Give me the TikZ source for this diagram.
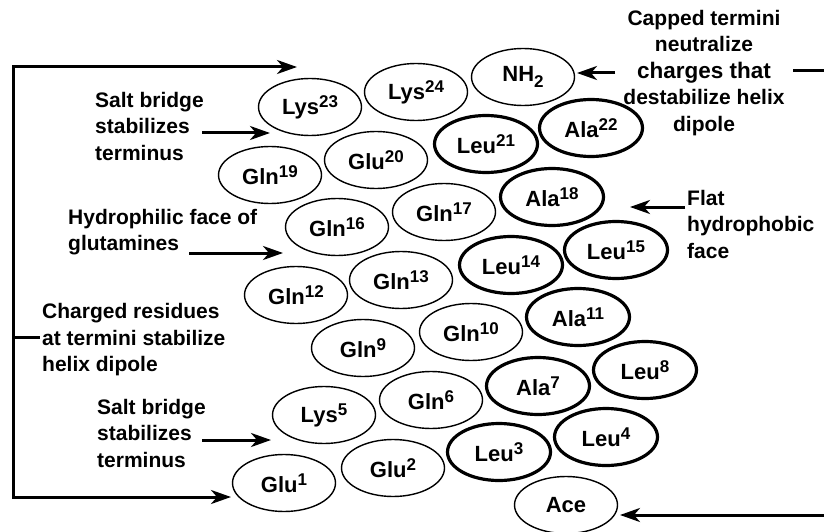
\documentclass[tikz,border=0pt]{standalone}
\usepackage{fontspec}
\setmainfont{Liberation Sans}
\usetikzlibrary{arrows.meta,shapes.geometric}
\newcommand\rsup[2]{#1\raisebox{7pt}{\fontsize{17}{17}\selectfont #2}}
\newcommand\rsub[2]{#1\raisebox{-6pt}{\fontsize{17}{17}\selectfont #2}}
\begin{document}
\begin{tikzpicture}[x=1pt,y=-1pt,
  res/.style={ellipse, draw, line width=1.4pt, minimum width=103pt, minimum height=57pt, inner sep=0pt, font=\fontsize{22}{22}\selectfont\bfseries},
  hres/.style={res, line width=3.2pt},
  lab/.style={font=\fontsize{21}{26.5}\selectfont\bfseries, inner sep=0pt, align=left, anchor=west},
  conn/.style={line width=3pt},
  arr/.style={conn, -{Stealth[length=20pt,width=14pt,inset=6pt]}}]
\useasboundingbox (0,0) rectangle (824,532);
% residues
\node[res]  (nh2)   at (523,77)  {\rsub{NH}{2}};
\node[res]  (lys24) at (416,92)  {\rsup{Lys}{24}};
\node[res]  (lys23) at (310,107) {\rsup{Lys}{23}};
\node[hres] (ala22) at (591,128) {\rsup{Ala}{22}};
\node[hres] (leu21) at (486,144) {\rsup{Leu}{21}};
\node[res]  (glu20) at (376,160) {\rsup{Glu}{20}};
\node[res]  (gln19) at (270,175) {\rsup{Gln}{19}};
\node[hres] (ala18) at (552,197) {\rsup{Ala}{18}};
\node[res]  (gln17) at (444,212) {\rsup{Gln}{17}};
\node[res]  (gln16) at (337,227) {\rsup{Gln}{16}};
\node[hres] (leu15) at (616,250) {\rsup{Leu}{15}};
\node[hres] (leu14) at (511,265) {\rsup{Leu}{14}};
\node[res]  (gln13) at (401,280) {\rsup{Gln}{13}};
\node[res]  (gln12) at (296,295) {\rsup{Gln}{12}};
\node[hres] (ala11) at (578,317) {\rsup{Ala}{11}};
\node[res]  (gln10) at (471,332) {\rsup{Gln}{10}};
\node[res]  (gln9)  at (363,348) {\rsup{Gln}{9}};
\node[hres] (leu8)  at (645,370) {\rsup{Leu}{8}};
\node[hres] (ala7)  at (538,386) {\rsup{Ala}{7}};
\node[res]  (gln6)  at (431,400) {\rsup{Gln}{6}};
\node[res]  (lys5)  at (324,415) {\rsup{Lys}{5}};
\node[hres] (leu4)  at (606,437) {\rsup{Leu}{4}};
\node[hres] (leu3)  at (499,452) {\rsup{Leu}{3}};
\node[res]  (glu2)  at (393,468) {\rsup{Glu}{2}};
\node[res]  (glu1)  at (284,483) {\rsup{Glu}{1}};
\node[res]  (ace)   at (566,505) {Ace};
% labels
\node[lab] (saltT) at (95,126) {Salt bridge\\stabilizes\\terminus};
\node[lab] (hydro) at (68,232) {Hydrophilic face of\\glutamines};
\node[lab] (charg) at (42,340) {Charged residues\\at termini stabilize\\helix dipole};
\node[lab] (saltB) at (97,433) {Salt bridge\\stabilizes\\terminus};
\node[lab, align=center, anchor=center] (capped) at (704,73) {Capped termini\\neutralize\\{\fontsize{22.5}{26.5}\selectfont charges that}\\destabilize helix\\dipole};
\node[lab] (flat) at (687,224) {Flat\\hydrophobic\\face};
% coordinates
\coordinate (ttip) at (297,67);
\coordinate (bcorner) at (13,497);
\coordinate (btip) at (231,497);
\coordinate (tickA) at (13,337);
\coordinate (tickB) at (40,337);
\coordinate (sTa) at (202,133); \coordinate (sTb) at (270,133);
\coordinate (hya) at (189,253); \coordinate (hyb) at (283,253);
\coordinate (sBa) at (202,440); \coordinate (sBb) at (271,440);
\coordinate (nha) at (615,73); \coordinate (nhb) at (577,73);
\coordinate (fla) at (685,207); \coordinate (flb) at (630,207);
\coordinate (acea) at (824,515); \coordinate (aceb) at (620,515);
\coordinate (rla) at (793,71); \coordinate (rlb) at (824,71);
% connectors
\draw[conn, line join=miter, {Stealth[length=20pt,width=14pt,inset=6pt]}-{Stealth[length=20pt,width=14pt,inset=6pt]}] (ttip) -| (bcorner) -- (btip);
\draw[conn] (tickA) -- (tickB);
\draw[arr] (sTa) -- (sTb);
\draw[arr] (hya) -- (hyb);
\draw[arr] (sBa) -- (sBb);
\draw[arr] (nha) -- (nhb);
\draw[arr] (fla) -- (flb);
\draw[arr] (acea) -- (aceb);
\draw[conn] (rla) -- (rlb);
\end{tikzpicture}
\end{document}
